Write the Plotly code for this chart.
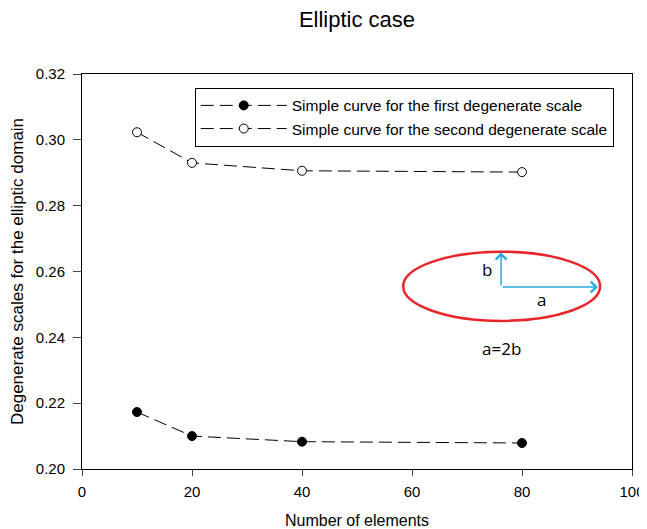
import plotly.graph_objects as go

elements = [10, 20, 40, 80]
first_scale = [0.2173, 0.2100, 0.2083, 0.2079]
second_scale = [0.3023, 0.2930, 0.2906, 0.2902]
series_names = ["Simple curve for the first degenerate scale",
                "Simple curve for the second degenerate scale"]
x_ticks = [0, 20, 40, 60, 80, 100]
y_ticks = [0.20, 0.22, 0.24, 0.26, 0.28, 0.30, 0.32]

FONT = "Liberation Sans, Arial, sans-serif"

fig = go.Figure()
fig.add_trace(go.Scatter(
    x=elements, y=first_scale, name=series_names[0], mode="lines+markers",
    line=dict(color="black", width=1, dash="13px,6px"),
    marker=dict(symbol="circle", size=9, color="black", line=dict(color="black", width=1))))
fig.add_trace(go.Scatter(
    x=elements, y=second_scale, name=series_names[1], mode="lines+markers",
    line=dict(color="black", width=1, dash="13px,6px"),
    marker=dict(symbol="circle", size=9, color="white", line=dict(color="black", width=1))))

# ellipse inset
fig.add_shape(type="circle", xref="x", yref="y", x0=58.4, x1=94.2, y0=0.2450, y1=0.2660,
              line=dict(color="#e8262a", width=2.5), fillcolor="rgba(0,0,0,0)")
arrow = dict(xref="x", yref="y", axref="x", ayref="y", showarrow=True, text="",
             arrowcolor="#29a9e1", arrowwidth=1.5, arrowhead=4, arrowsize=1.4)
fig.add_annotation(x=76.2, y=0.2658, ax=76.2, ay=0.2553, **arrow)
fig.add_annotation(x=93.8, y=0.2553, ax=76.2, ay=0.2553, **arrow)
txt = dict(xref="x", yref="y", showarrow=False, font=dict(family="Open Sans, sans-serif", size=17, color="black"))
fig.add_annotation(x=73.6, y=0.2606, text="b", **txt)
fig.add_annotation(x=83.5, y=0.2516, text="a", **txt)
fig.add_annotation(x=76.2, y=0.2365, text="a=2b", **txt)

fig.update_layout(
    width=639, height=521,
    margin=dict(l=74, r=15, t=66, b=60),
    paper_bgcolor="white", plot_bgcolor="white",
    font=dict(family=FONT, size=15, color="black"),
    title=dict(text="Elliptic case", x=0.5, xref="paper", xanchor="center",
               y=0.979, yref="container", yanchor="middle", font=dict(size=22, family=FONT)),
    showlegend=True,
    legend=dict(x=0.205, y=0.965, xanchor="left", yanchor="top",
                bgcolor="white", bordercolor="black", borderwidth=1,
                font=dict(size=15.5, family=FONT), tracegroupgap=0, itemwidth=86),
)
fig.update_xaxes(range=[0, 100], tickvals=x_ticks, ticks="outside", ticklen=6,
                 showline=True, linecolor="black", linewidth=1, mirror=True,
                 showgrid=False, zeroline=False, tickfont=dict(size=15),
                 ticklabelstandoff=3, automargin=False,
                 title=dict(text="Number of elements", font=dict(size=16), standoff=18))
fig.update_yaxes(range=[0.20, 0.32], tickvals=y_ticks, tickformat=".2f", ticks="outside", ticklen=8,
                 showline=True, linecolor="black", linewidth=1, mirror=True,
                 showgrid=False, zeroline=False, tickfont=dict(size=15),
                 ticklabelstandoff=5, automargin=False,
                 title=dict(text="Degenerate scales for the elliptic domain", font=dict(size=17), standoff=12))

fig.write_html("out.html")
